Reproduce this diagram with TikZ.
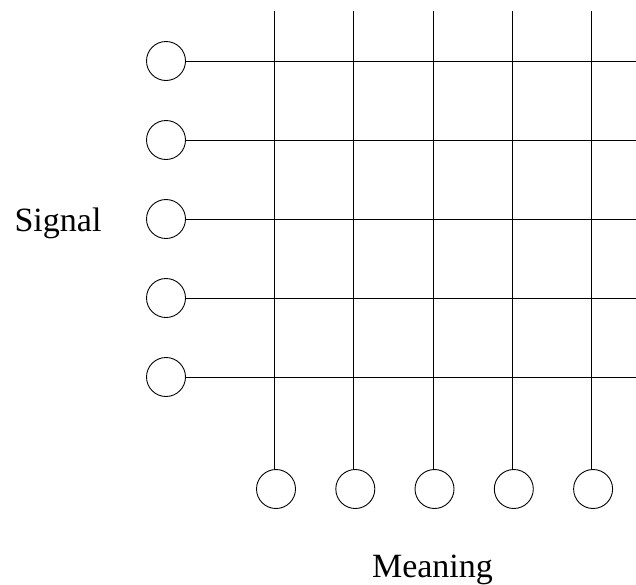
\documentclass[tikz,border=0pt]{standalone}
\usepackage{fontspec}
\setmainfont{Liberation Serif}
\begin{document}
\begin{tikzpicture}[x=1pt,y=-1pt,
  unit/.style={draw,circle,inner sep=0pt,minimum size=39pt,line width=0.9pt},
  wire/.style={line width=0.9pt},
  lbl/.style={anchor=base,font=\fontsize{34}{40}\selectfont}]
\useasboundingbox (0,0) rectangle (636,584);
\foreach \i/\y in {1/61,2/140,3/219,4/298,5/377}{
  \node[unit] (l\i) at (166,\y) {};
  \coordinate (r\i) at (636,\y);
  \draw[wire] (l\i.east) -- (r\i);
}
\foreach \i/\x in {1/274.5,2/353.8,3/433,4/512.3,5/591.6}{
  \node[unit] (b\i) at (\x+1.5,489) {};
  \coordinate (t\i) at (\x,11);
  \draw[wire] (t\i) -- (t\i |- b\i.north);
}
\node[lbl] (signal) at (58,231.5) {Signal};
\node[lbl] (meaning) at (432.5,577) {Meaning};
\end{tikzpicture}
\end{document}
